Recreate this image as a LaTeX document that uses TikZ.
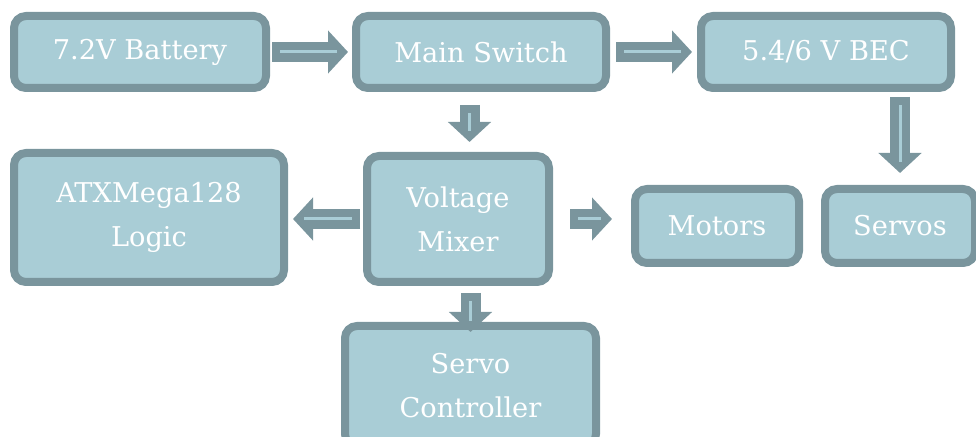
\documentclass[tikz,border=0pt]{standalone}
\usepackage{fontspec}
\setmainfont{DejaVu Serif}
\usetikzlibrary{arrows.meta,positioning,calc}
\definecolor{Fill}{HTML}{A9CDD6}
\definecolor{Edge}{HTML}{7A959D}

\tikzset{
  box/.style={draw=Edge,fill=Fill,line width=1.6mm,rounded corners=2.4mm,text=white,
    align=center,inner sep=0pt,font=\fontsize{15.5}{25}\selectfont},
  flow/.style 2 args={draw=Edge,line width=4mm,-{Triangle[length=4mm,width=8.4mm]},
    shorten <=#1,shorten >=#2,
    postaction={draw=Fill,line width=.6mm,-,shorten <=#1+1.6mm,shorten >=#2+2.2mm}},
}

\begin{document}
\begin{tikzpicture}
    \useasboundingbox (0,0) rectangle (19.52,8.72);
    \node[box,minimum width=5.04cm,minimum height=1.44cm] (bat) at (2.8,7.68) {7.2V Battery};
    \node[box,minimum width=5cm,minimum height=1.44cm,right=1.64cm of bat] (main) {Main Switch};
    \node[box,minimum width=5cm,minimum height=1.44cm,right=1.74cm of main] (bec) {5.4/6 V BEC};
    \node[box,minimum width=5.4cm,minimum height=2.58cm] (atx) at (2.98,4.37) {ATXMega128\\Logic};
    \node[box,minimum width=3.64cm,minimum height=2.52cm] (mixer) at (9.16,4.34) {Voltage\\Mixer};
    \node[box,minimum width=3.28cm,minimum height=1.48cm] (motors) at (14.34,4.2) {Motors};
    \node[box,minimum width=3cm,minimum height=1.48cm] (servos) at (18,4.2) {Servos};
    \node[box,minimum width=5.02cm,minimum height=2.4cm] (ctrl) at (9.41,1) {Servo\\Controller};
    \coordinate (split) at ($(main.south)!.5!(mixer.north)$);
    \draw[flow={.04cm}{.08cm}] (bat.east) -- (bat.east -| main.west);
    \draw[flow={.12cm}{.1cm}] (main.east) -- (main.east -| bec.west);
    \draw[flow={.26cm}{.2cm}] (split |- main.south) -- (split |- mixer.north);
    \draw[flow={.1cm}{.24cm}] (servos.north |- bec.south) -- (servos.north);
    \draw[flow={.06cm}{.1cm}] (mixer.west) -- (mixer.west -| atx.east);
    \draw[flow={.34cm}{.38cm}] (mixer.east) -- (mixer.east -| motors.west);
    \draw[flow={.14cm}{-.2cm}] (ctrl.north |- mixer.south) -- (ctrl.north);
  \end{tikzpicture}
\end{document}
